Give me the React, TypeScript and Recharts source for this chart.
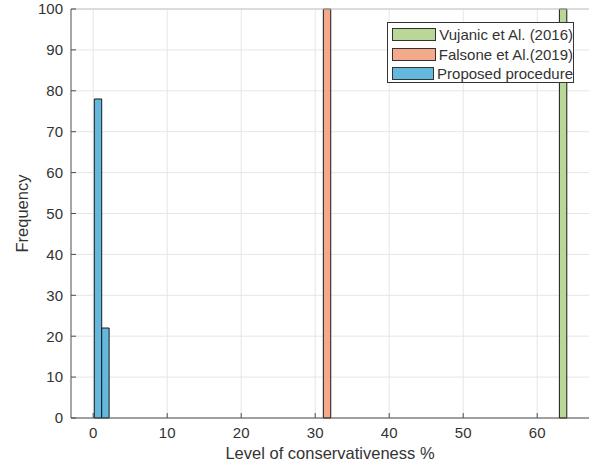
import { ComposedChart, XAxis, YAxis, CartesianGrid, ReferenceArea, ReferenceLine } from "recharts";

// histogram bins: [left edge, right edge, count]
const proposedBins = [
  { x0: 0.15, x1: 1.15, count: 78 },
  { x0: 1.15, x1: 2.15, count: 22 },
];
const falsoneBins = [{ x0: 31.1, x1: 32.1, count: 100 }];
const vujanicBins = [{ x0: 63.0, x1: 64.0, count: 100 }];

const xTicks = [0, 10, 20, 30, 40, 50, 60];
const yTicks = [0, 10, 20, 30, 40, 50, 60, 70, 80, 90, 100];

const series = [
  { name: "Vujanic et Al. (2016)", color: "#b9d796", bins: vujanicBins },
  { name: "Falsone et Al.(2019)", color: "#f4a98a", bins: falsoneBins },
  { name: "Proposed procedure", color: "#64b8de", bins: proposedBins },
];

const allBins = [...proposedBins, ...falsoneBins, ...vujanicBins];

const xDomain = [-3, 67];
const yDomain = [0, 100];
const font = "'Liberation Sans', Arial, sans-serif";
const axisColor = "#4d4d4d";
const textColor = "#333";

export default function App() {
  return (
    <div style={{ position: "absolute", left: 0, top: 0, width: 589, height: 473, background: "#fff", fontFamily: font }}>
      <ComposedChart width={589} height={473} data={allBins} margin={{ top: 9, right: 0, left: 0, bottom: 0 }}>
        <CartesianGrid stroke="#e6e6e6" horizontalValues={yTicks} verticalValues={xTicks} />
        <XAxis
          type="number"
          dataKey="x0"
          domain={xDomain}
          ticks={xTicks}
          allowDataOverflow
          height={55}
          tickSize={-5}
          tickLine={{ stroke: axisColor }}
          axisLine={{ stroke: axisColor }}
          tick={{ fill: textColor, fontSize: 15, fontFamily: font }}
          tickMargin={14}
          label={{ value: "Level of conservativeness %", position: "insideBottom", offset: 14, fill: textColor, fontSize: 16.5, fontFamily: font }}
        />
        <YAxis
          type="number"
          dataKey="count"
          domain={yDomain}
          ticks={yTicks}
          allowDataOverflow
          width={71}
          tickSize={-5}
          tickLine={{ stroke: axisColor }}
          axisLine={{ stroke: axisColor }}
          tick={{ fill: textColor, fontSize: 15, fontFamily: font }}
          tickMargin={13}
          label={{ value: "Frequency", angle: -90, position: "insideLeft", offset: 22, fill: textColor, fontSize: 16.5, fontFamily: font, style: { textAnchor: "middle" } }}
        />
        {/* top edge of the axes box */}
        <ReferenceLine y={yDomain[1]} stroke="#c4c4c4" strokeWidth={1} ifOverflow="visible" />
        {series.map((s) =>
          s.bins.map((b, i) => (
            <ReferenceArea
              key={s.name + i}
              x1={b.x0}
              x2={b.x1}
              y1={0}
              y2={b.count}
              fill={s.color}
              fillOpacity={1}
              stroke="#1a1a1a"
              strokeWidth={1}
              ifOverflow="visible"
            />
          ))
        )}
      </ComposedChart>
      <div
        style={{
          position: "absolute",
          left: 387,
          top: 22,
          width: 187,
          height: 61,
          border: "1px solid #333",
          background: "#fff",
          boxSizing: "border-box",
          padding: "2px 0 0 4px",
        }}
      >
        {series.map((s) => (
          <div key={s.name} style={{ display: "flex", alignItems: "center", height: 19.5 }}>
            <div style={{ width: 46, height: 13, background: s.color, border: "1px solid #333", boxSizing: "border-box" }} />
            <span style={{ marginLeft: 3, fontSize: 15, lineHeight: "17px", color: textColor, whiteSpace: "nowrap" }}>{s.name}</span>
          </div>
        ))}
      </div>
    </div>
  );
}
